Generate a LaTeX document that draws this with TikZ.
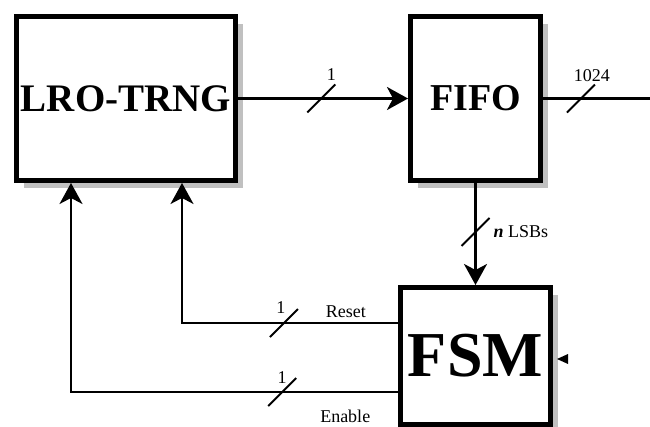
\documentclass[tikz,border=0pt]{standalone}
\usepackage{fontspec}
\setmainfont{Liberation Serif}
\usepackage{tikz}
\usetikzlibrary{positioning,arrows.meta,shadows,calc}
\definecolor{shGray}{RGB}{192,192,192}

\begin{document}
\begin{tikzpicture}[
  x=1pt, y=-1pt,
  blk/.style={draw, line width=5pt, fill=white, inner sep=0pt, font=\bfseries,
    drop shadow={shadow xshift=7pt, shadow yshift=-8pt, fill=shGray, opacity=1}},
  arr/.style={-{Stealth[length=21pt, width=23pt, inset=6pt]}, line width=2.6pt},
  bus/.style={line width=2.6pt},
  sig/.style={-{Stealth[length=21pt, width=23pt, inset=6pt]}, line width=1.8pt},
  slash/.style={line width=2pt},
  lbl/.style={font=\fontsize{18}{20}\selectfont, inner sep=0pt},
]
\useasboundingbox (0,0) rectangle (650,427);
% blocks
\node[blk, minimum width=219pt, minimum height=164pt, font=\fontsize{39}{40}\selectfont\bfseries] (trng) at (126,98.5) {LRO-TRNG};
\node[blk, minimum width=130pt, minimum height=164pt, font=\fontsize{38}{40}\selectfont\bfseries] (fifo) at (475.5,98.5) {FIFO};
\node[blk, minimum width=150pt, minimum height=137pt, font=\fontsize{64}{66}\selectfont\bfseries] (fsm) at (475.5,356) {FSM};
\coordinate (out) at (650,98.5);
% data path
\draw[arr] (trng) -- coordinate[pos=0.49] (s1) (fifo);
\draw[slash] ($(s1)+(-14,14)$) -- ($(s1)+(14,-14)$);
\node[lbl] (n1) at ([shift={(10,-24)}]s1) {1};
\draw[bus] (fifo) -- coordinate[pos=0.355] (s2) (out);
\draw[slash] ($(s2)+(-14,14)$) -- ($(s2)+(14,-14)$);
\node[lbl] (n2) at ([shift={(11,-23)}]s2) {1024};
\draw[arr] (fifo) -- coordinate[pos=0.48] (s3) (fsm);
\draw[slash] ($(s3)+(-14,14)$) -- ($(s3)+(14,-14)$);
\node[lbl, anchor=west] (n3) at ([shift={(18,0)}]s3) {\textbf{\textit{n}} LSBs};
% control lines
\draw[sig] ([yshift=33pt]fsm.west) -| coordinate[pos=0.264] (s4) ([xshift=56pt]trng.south);
\draw[slash] ($(s4)+(-14,14)$) -- ($(s4)+(14,-14)$);
\node[lbl] (n4) at ([shift={(-3,-15)}]s4) {1};
\node[lbl] (rst) at ([shift={(62,-11)}]s4) {Reset};
\draw[sig] ([yshift=-36pt]fsm.west) -| coordinate[pos=0.177] (s5) ([xshift=-55pt]trng.south);
\draw[slash] ($(s5)+(-14,14)$) -- ($(s5)+(14,-14)$);
\node[lbl] (n5) at ([shift={(0,-14)}]s5) {1};
\node[lbl] (en) at ([shift={(63,24)}]s5) {Enable};
% clock input
\fill ([shift={(4,3)}]fsm.east) -- ++(11,-5) -- ++(0,10) -- cycle;
\end{tikzpicture}
\end{document}
